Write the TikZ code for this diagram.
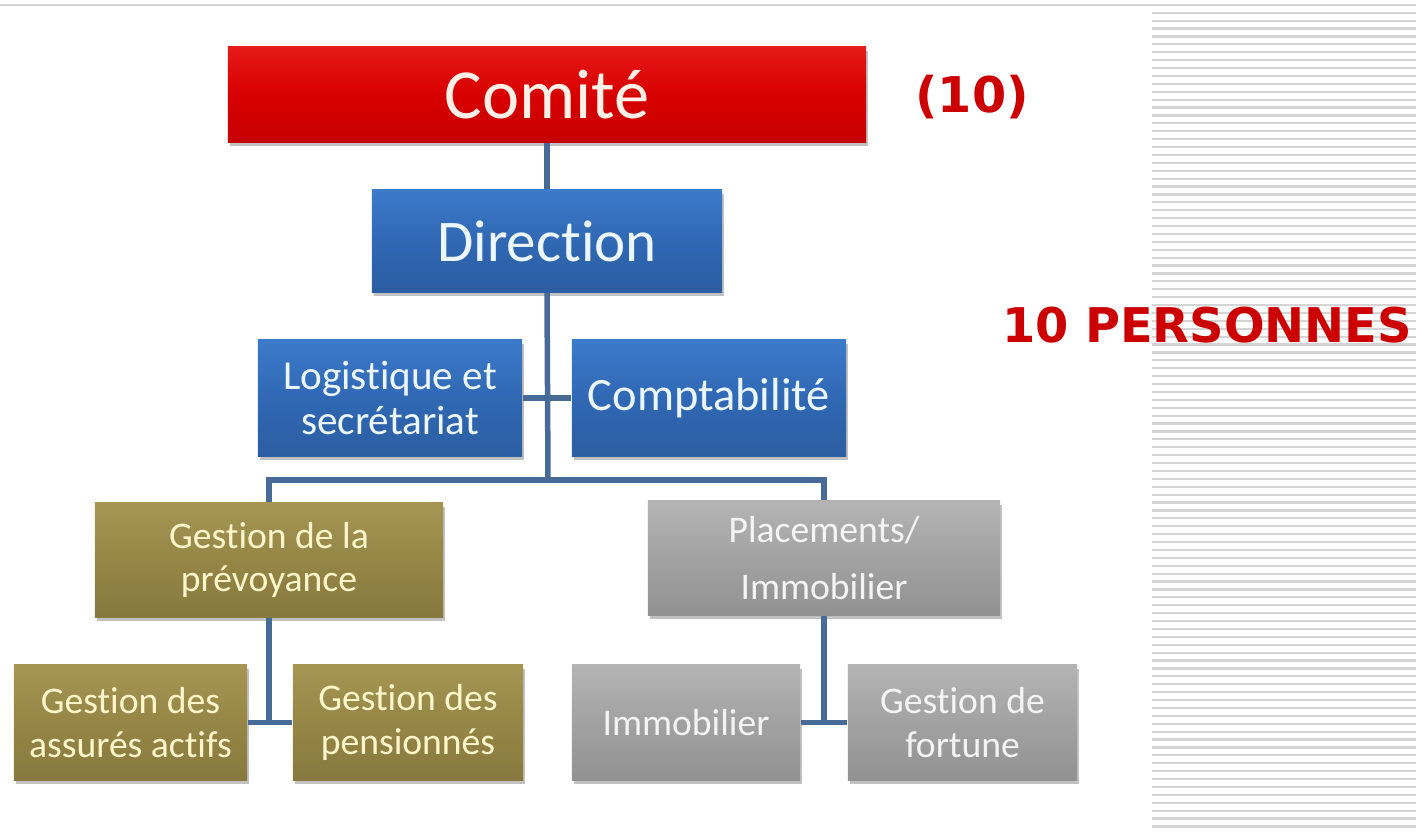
\documentclass[tikz,border=0pt]{standalone}
\usepackage{fontspec}
\setmainfont{Carlito}[Ligatures=NoCommon]
\newfontfamily\notefont{DejaVu Sans}
\usetikzlibrary{shadows,calc}
\definecolor{comitered}{RGB}{216,0,0}
\definecolor{comitetop}{RGB}{230,26,26}
\definecolor{dirblue}{RGB}{48,104,180}
\definecolor{dirtop}{RGB}{60,122,202}
\definecolor{olive}{RGB}{150,134,70}
\definecolor{olivetop}{RGB}{166,150,84}
\definecolor{boxgray}{RGB}{162,162,162}
\definecolor{graytop}{RGB}{180,180,180}
\definecolor{connblue}{RGB}{72,106,150}
\definecolor{notered}{RGB}{204,0,0}
\definecolor{stripegray}{RGB}{212,212,212}
\tikzstyle{box} = [rectangle, draw=none, align=center, inner sep=0pt, drop shadow={shadow xshift=0.02cm, shadow yshift=-0.04cm, opacity=0.35, fill=black!70}]
\tikzstyle{redbox} = [box, top color=comitetop, bottom color=comitered!92!black, middle color=comitered, text={rgb,255:red,255;green,240;blue,232}]
\tikzstyle{bluebox} = [box, top color=dirtop, bottom color=dirblue!90!black, middle color=dirblue, text={rgb,255:red,236;green,246;blue,255}]
\tikzstyle{olivebox} = [box, top color=olivetop, bottom color=olive!90!black, middle color=olive, text={rgb,255:red,255;green,246;blue,204}]
\tikzstyle{graybox} = [box, top color=graytop, bottom color=boxgray!90!black, middle color=boxgray, text={rgb,255:red,244;green,244;blue,244}]
\tikzstyle{conn} = [draw=connblue, line width=0.055cm]
\tikzstyle{small} = [font=\fontsize{10.7}{12.4}\selectfont]

\begin{document}
\begin{tikzpicture}[x=0.01cm,y=-0.01cm]
\useasboundingbox (0,0) rectangle (1416,836);
% page rules
\draw[line width=0.025cm, draw=stripegray] (0,5) -- (1416,5);
\foreach \yy in {12.7,20.6,...,832}
  \draw[line width=0.022cm, draw=stripegray] (1152,\yy) -- (1416,\yy);
% boxes
\node[redbox, minimum width=6.38cm, minimum height=0.95cm, font=\fontsize{20}{24}\selectfont] (comite) at (547,94.5) {Comité};
\node[bluebox, minimum width=3.5cm, minimum height=1.02cm, font=\fontsize{16.8}{20}\selectfont] (direction) at (547,241) {Direction};
\node[bluebox, minimum width=2.64cm, minimum height=1.16cm, font=\fontsize{11.7}{12.9}\selectfont] (logist) at (390,398) {Logistique et\\secrétariat};
\node[bluebox, minimum width=2.74cm, minimum height=1.16cm, font=\fontsize{13.2}{15}\selectfont] (compta) at (709,398) {Comptabilité};
\node[olivebox, small, minimum width=3.48cm, minimum height=1.14cm] (prevoy) at (269,560) {Gestion de la\\prévoyance};
\node[graybox, small, minimum width=3.52cm, minimum height=1.14cm] (placem) at (824,558) {Placements/\\[0.14cm]Immobilier};
\node[olivebox, small, minimum width=2.33cm, minimum height=1.15cm] (assures) at (130.5,722.5) {Gestion des\\assurés actifs};
\node[olivebox, small, minimum width=2.30cm, minimum height=1.15cm] (pension) at (408,722.5) {Gestion des\\pensionnés};
\node[graybox, small, minimum width=2.28cm, minimum height=1.15cm] (immob) at (686,722.5) {Immobilier};
\node[graybox, small, minimum width=2.29cm, minimum height=1.15cm] (fortune) at (962.5,722.5) {Gestion de\\fortune};
% counts
\node[text=notered, font=\notefont\bfseries\fontsize{14}{16}\selectfont] (nbcomite) at (972,97) {(10)};
\node[text=notered, font=\notefont\bfseries\fontsize{13.6}{16}\selectfont] (nbpers) at (1207,325) {10 PERSONNES};
% links
\coordinate (bus) at (548,480);
\draw[conn] (comite.south) -- (direction.north);
\draw[conn] (direction.south) -- (bus);
\draw[conn] (logist.east) -- (compta.west);
\draw[conn] (prevoy.north) |- (bus) -| (placem.north);
\draw[conn] (prevoy.south) -- (prevoy.south |- assures.east);
\draw[conn] (assures.east) -- (pension.west);
\draw[conn] (placem.south) -- (placem.south |- immob.east);
\draw[conn] (immob.east) -- (fortune.west);
\end{tikzpicture}
\end{document}
